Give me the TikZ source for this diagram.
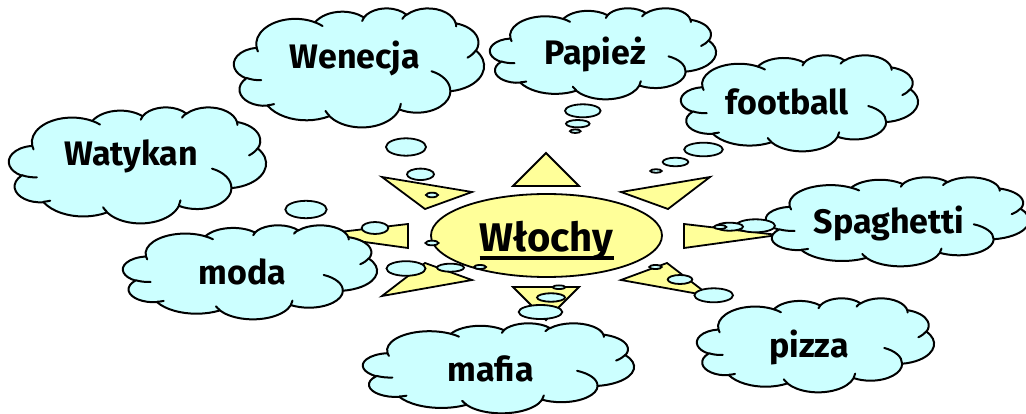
\documentclass[tikz,border=0pt]{standalone}
\usepackage{fontspec}
\setmainfont{Fira Sans}
\definecolor{cloudfill}{HTML}{CCFFFF}
\definecolor{sunfill}{HTML}{FFFF99}
% DrawingML-style arc: visual angles converted to parametric ones
\newcommand\defcarc[5]{%
  \pgfmathsetmacro\cldA{atan2((#2)*sin(#4),(#3)*cos(#4))}%
  \pgfmathsetmacro\cldB{atan2((#2)*sin((#4)+(#5)),(#3)*cos((#4)+(#5)))}%
  \pgfmathsetmacro\cldD{mod(\cldB-\cldA+720,360)}%
  \tikzset{#1/.style/.expanded={start angle=\cldA, delta angle=\cldD, x radius=#2, y radius=#3}}%
}
\defcarc{carcA}{15.6319}{21.2731}{-190.4875}{123.7805}
\defcarc{carcB}{12.3449}{16.8218}{-144.1024}{89.9452}
\defcarc{carcC}{10.1042}{13.7616}{-145.8079}{99.7230}
\defcarc{carcD}{11.2431}{15.2662}{-130.9861}{117.2417}
\defcarc{carcE}{12.3449}{16.8356}{-78.7089}{109.0269}
\defcarc{carcF}{15.6829}{21.3426}{-46.2673}{130.2690}
\defcarc{carcG}{13.3912}{18.2106}{0.6250}{114.0333}
\defcarc{carcH}{15.6296}{21.3310}{22.4516}{115.1726}
\defcarc{carcI}{17.8704}{24.4051}{66.2426}{75.7110}
\defcarc{carcJ}{10.0926}{13.6991}{-274.9421}{146.7356}
\defcarc{carcK}{10.0579}{13.7616}{-246.8285}{152.5189}
\defcarc{inarcA}{10.0579}{13.7616}{86.742}{26.4295}
\defcarc{inarcB}{10.0926}{13.6991}{73.6105}{11.4475}
\defcarc{inarcC}{15.6296}{21.3310}{137.6242}{14.0811}
\defcarc{inarcD}{15.6296}{21.3310}{6.4533}{15.9984}
\defcarc{inarcE}{13.3912}{18.2106}{-70.2924}{70.9174}
\defcarc{inarcF}{12.3449}{16.8356}{30.3180}{27.7515}
\defcarc{inarcG}{11.2431}{15.2662}{-13.7443}{14.8589}
\defcarc{inarcH}{11.2431}{15.2662}{-149.1815}{18.1954}
\defcarc{inarcI}{10.1042}{13.7616}{-163.4943}{17.6864}
\defcarc{inarcJ}{15.6319}{21.2731}{-66.7070}{12.3194}
\defcarc{inarcK}{15.6319}{21.2731}{157.6544}{11.8582}
\newcommand\cloudbody{(9.0278,33.2639) arc[carcA] arc[carcB] arc[carcC] arc[carcD] arc[carcE] arc[carcF] arc[carcG] arc[carcH] arc[carcI] arc[carcJ] arc[carcK] -- cycle}
\newcommand\cloudinner{(10.8634,60.5949) arc[inarcA] (16.0370,80.7847) arc[inarcB] (38.1435,90.4861) arc[inarcC] (66.7292,80.4421) arc[inarcD] (79.0023,53.1343) arc[inarcE] (96.7546,35.5417) arc[inarcF] (88.7130,12.5602) arc[inarcG] (67.3102,9.1481) arc[inarcH] (51.2523,10.9259) arc[inarcI] (32.4074,12.0185) arc[inarcJ] (9.5532,36.5486) arc[inarcK]}
% #1,#2 top-left corner; #3,#4 width/100 and height/100
\newcommand\drawcloud[4]{%
  \begin{scope}[shift={(#1,#2)}, x=#3pt, y=-#4pt]
    \path[cloudshape] \cloudbody;
    \path[cloudline] \cloudinner;
  \end{scope}}
\tikzset{
  cloudshape/.style={fill=cloudfill, draw=black, line width=2pt, line join=round},
  cloudline/.style={draw=black, line width=2pt, line cap=round},
  bubble/.style={fill=cloudfill, draw=black, line width=1.8pt},
  ray/.style={fill=sunfill, draw=black, line width=1.8pt, line join=miter},
  lbl/.style={font=\fontsize{34}{40}\selectfont\bfseries, inner sep=0pt, anchor=base},
}
\begin{document}
\begin{tikzpicture}[x=1pt, y=-1pt]
\useasboundingbox (0,0) rectangle (1026,414);
\fill[white] (0,0) rectangle (1026,414);
\clip (0,0) rectangle (1026,414);
% sun
\draw[ray] (546,153) -- (513,186) -- (579,186) -- cycle;
\draw[ray] (513,287) -- (579,287) -- (546,320) -- cycle;
\draw[ray] (382,177) -- (472,192) -- (425,209) -- cycle;
\draw[ray] (710,177) -- (621,192) -- (668,209) -- cycle;
\draw[ray] (408,224) -- (408,248) -- (314,235) -- cycle;
\draw[ray] (684,224) -- (684,248) -- (778,235) -- cycle;
\draw[ray] (382,296) -- (472,280) -- (425,263) -- cycle;
\draw[ray] (710,296) -- (621,280) -- (667,263) -- cycle;
\draw[ray] (546.5,235.5) ellipse [x radius=115.5, y radius=41.5];
\node[font=\fontsize{40}{46}\selectfont\bfseries, inner sep=0pt, anchor=base] (wl) at (546.5,252) {Włochy};
\draw[line width=3.5pt] ([yshift=-6pt]wl.base west) -- ([yshift=-6pt]wl.base east);
% Wenecja
\drawcloud{234}{8}{2.50}{1.19}
\draw[bubble] (406,147) ellipse [x radius=20, y radius=8.7];
\draw[bubble] (420.5,174.3) ellipse [x radius=13.5, y radius=5.7];
\draw[bubble] (432,195) ellipse [x radius=6, y radius=2.3];
\node[lbl] (wenecja) at (355,69) {Wenecja};
% Papiez
\drawcloud{490}{8}{2.26}{0.91}
\draw[bubble] (582.8,110.8) ellipse [x radius=17.8, y radius=6.5];
\draw[bubble] (577.8,123.7) ellipse [x radius=11.8, y radius=3.7];
\draw[bubble] (575.3,131.2) ellipse [x radius=5.3, y radius=1.8];
\node[lbl] (papiez) at (595,65) {Papież};
% football
\drawcloud{681}{55}{2.37}{0.96}
\draw[bubble] (703.5,149.5) ellipse [x radius=19.3, y radius=6.8];
\draw[bubble] (675.5,162) ellipse [x radius=12.8, y radius=4.3];
\draw[bubble] (656,171) ellipse [x radius=5.7, y radius=1.8];
\node[lbl] (football) at (787.5,115) {football};
% Watykan
\drawcloud{9}{107}{2.57}{1.16}
\draw[bubble] (306,209.5) ellipse [x radius=20.7, y radius=8.7];
\draw[bubble] (375,228) ellipse [x radius=13.3, y radius=6];
\draw[bubble] (432,243) ellipse [x radius=6.5, y radius=2.3];
\node[lbl] (watykan) at (131,166) {Watykan};
% Spaghetti
\drawcloud{766}{177}{2.63}{0.89}
\draw[bubble] (755.5,225.8) ellipse [x radius=19.5, y radius=6.5];
\draw[bubble] (729.5,226.7) ellipse [x radius=13.5, y radius=4];
\draw[bubble] (720,227) ellipse [x radius=6.3, y radius=2];
\node[lbl] (spaghetti) at (889,234) {Spaghetti};
% moda
\drawcloud{123}{225}{2.54}{0.94}
\draw[bubble] (406,268.5) ellipse [x radius=19.5, y radius=7.3];
\draw[bubble] (450.5,267.7) ellipse [x radius=13.5, y radius=4];
\draw[bubble] (480,267) ellipse [x radius=6, y radius=2];
\node[lbl] (moda) at (242.5,285) {moda};
% mafia
\drawcloud{363}{323}{2.71}{0.90}
\draw[bubble] (540.5,312) ellipse [x radius=21.8, y radius=7];
\draw[bubble] (551,297.5) ellipse [x radius=14, y radius=4.2];
\draw[bubble] (559,287.2) ellipse [x radius=6.5, y radius=1.8];
\node[lbl] (mafia) at (490.5,381) {mafia};
% pizza
\drawcloud{697}{298}{2.37}{0.94}
\draw[bubble] (713.7,295.3) ellipse [x radius=19.3, y radius=7];
\draw[bubble] (680,279.5) ellipse [x radius=12.3, y radius=4.5];
\draw[bubble] (655.5,267) ellipse [x radius=6.2, y radius=2];
\node[lbl] (pizza) at (809,357) {pizza};
\end{tikzpicture}
\end{document}
